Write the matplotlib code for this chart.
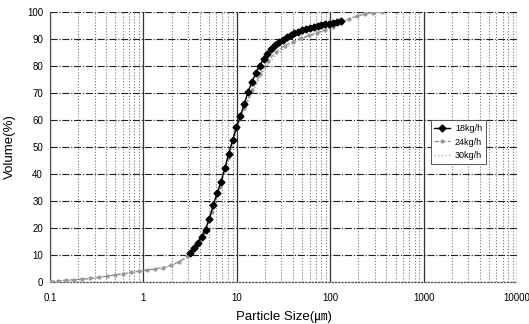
import matplotlib
matplotlib.use("Agg")
import matplotlib.pyplot as plt
from matplotlib.ticker import FixedLocator, NullFormatter, FixedFormatter, LogLocator

plt.rcParams['font.family'] = ['Liberation Sans', 'Noto Sans CJK KR', 'DejaVu Sans']

# 18 kg/h
d18 = [3.16, 3.47, 3.82, 4.20, 4.62, 5.08, 5.59, 6.15, 6.76, 7.44, 8.18, 9.00,
       9.90, 10.9, 12.0, 13.2, 14.5, 15.9, 17.5, 19.3, 21.2, 23.3, 25.7, 28.2,
       31.0, 34.1, 37.6, 41.3, 45.5, 50.0, 55.0, 60.5, 66.6, 73.2, 80.5, 88.6,
       97.4, 107, 118, 130]
v18 = [10.7, 12.5, 14.5, 16.5, 19.4, 23.3, 28.5, 32.8, 37.0, 42.2, 47.3, 52.5,
       57.3, 61.5, 65.8, 70.5, 74.0, 77.3, 80.0, 82.5, 84.5, 86.2, 87.6, 88.7,
       89.7, 90.6, 91.4, 92.1, 92.7, 93.3, 93.7, 94.1, 94.5, 94.8, 95.1, 95.4,
       95.7, 96.0, 96.4, 96.8]

# 24 kg/h and 30 kg/h
d_fine = [0.1, 0.122, 0.149, 0.182, 0.222, 0.271, 0.331, 0.404, 0.493, 0.602,
          0.735, 0.897, 1.09, 1.34, 1.63, 1.99, 2.43, 2.96, 3.62, 4.41, 5.39,
          6.58, 8.03, 9.80, 12.0, 14.6, 17.8, 21.7, 26.5, 32.4, 39.5, 48.2,
          58.9, 71.9, 87.7, 107, 131, 160, 195, 238, 290, 354]
v24 = [0.2, 0.4, 0.6, 0.8, 1.0, 1.3, 1.7, 2.1, 2.6, 3.0,
       3.5, 4.0, 4.4, 4.8, 5.3, 6.2, 7.5, 9.5, 13.5, 18.5, 26.0,
       35.0, 46.0, 56.5, 64.5, 71.0, 77.0, 82.0, 85.3, 87.5, 89.0, 90.3,
       91.3, 92.3, 93.3, 94.5, 96.0, 97.3, 98.5, 99.3, 99.8, 100.0]
v30 = [0.0, 0.3, 0.5, 0.7, 0.9, 1.2, 1.6, 2.0, 2.5, 2.9,
       3.4, 3.9, 4.3, 4.7, 5.2, 6.0, 7.3, 9.2, 13.0, 18.0, 25.5,
       34.5, 45.0, 55.5, 63.5, 70.0, 76.0, 80.8, 84.2, 86.6, 88.3, 89.8,
       90.9, 92.0, 93.2, 94.6, 96.2, 97.6, 98.7, 99.4, 99.9, 100.0]

xticks = [0.1, 1, 10, 100, 1000, 10000]
xticklabels = ['0.1', '1', '10', '100', '1000', '10000']
yticks = list(range(0, 101, 10))

fig = plt.figure(figsize=(5.29, 3.24), dpi=100)
ax = fig.add_axes([0.0945, 0.13, 0.883, 0.833])

ax.set_xscale('log')
ax.set_xlim(0.1, 10000)
ax.set_ylim(0, 100)

ax.xaxis.set_major_locator(FixedLocator(xticks))
ax.xaxis.set_major_formatter(FixedFormatter(xticklabels))
ax.xaxis.set_minor_locator(LogLocator(base=10, subs=range(2, 10), numticks=50))
ax.xaxis.set_minor_formatter(NullFormatter())
ax.set_yticks(yticks)

ax.grid(True, which='major', axis='x', color='#333333', lw=0.9, ls='-')
ax.grid(True, which='minor', axis='x', color='#777777', lw=0.8, ls=':')
ax.grid(True, which='major', axis='y', color='#222222', lw=0.8, ls='-.')
ax.set_axisbelow(True)

ax.plot(d_fine, v30, ls=':', color='#b0b0b0', lw=1.0, label='30kg/h', zorder=3)
ax.plot(d_fine, v24, ls='--', color='#8a8a8a', lw=0.9, marker='o', ms=2,
        mfc='#9a9a9a', mec='#9a9a9a', label='24kg/h', zorder=4)
ax.plot(d18, v18, ls='-', color='black', lw=1.0, marker='D', ms=3.5,
        mfc='black', mec='black', label='18kg/h', zorder=5)

handles, labels = ax.get_legend_handles_labels()
order = [2, 1, 0]
leg = ax.legend([handles[i] for i in order], [labels[i] for i in order],
                loc='upper left', bbox_to_anchor=(0.805, 0.615),
                fontsize=6.5, frameon=True, fancybox=False, framealpha=1,
                edgecolor='#555555', handlelength=1.8, borderpad=0.4,
                labelspacing=0.5, handletextpad=0.5)
leg.get_frame().set_linewidth(0.7)

for s in ['top', 'right']:
    ax.spines[s].set_visible(False)
for s in ['left', 'bottom']:
    ax.spines[s].set_linestyle(':')
    ax.spines[s].set_color('#555555')
    ax.spines[s].set_linewidth(0.9)

ax.tick_params(which='both', length=0, labelsize=7, pad=8)
ax.tick_params(axis='y', pad=5)

ax.set_xlabel('Particle Size(㎛)', fontsize=9.5, labelpad=6)
ax.set_ylabel('Volume(%)', fontsize=9.5, labelpad=8)

fig.savefig('out.png', dpi=100)
